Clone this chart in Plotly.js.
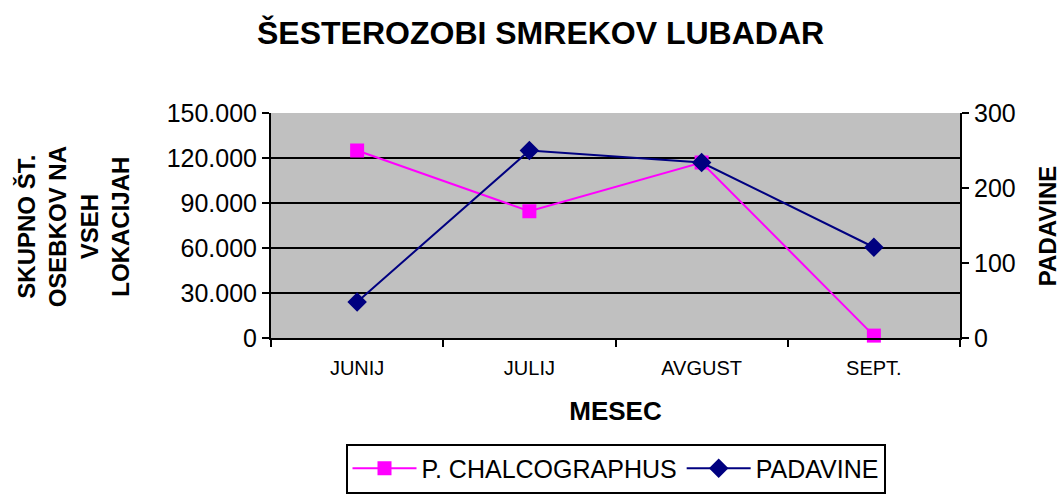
<!DOCTYPE html>
<html>
<head>
<meta charset="utf-8">
<script src="https://cdn.plot.ly/plotly-3.0.1.min.js"></script>
<style>html,body{margin:0;padding:0;background:#fff}#chart{width:1060px;height:495px}</style>
</head>
<body>
<div id="chart"></div>
<script>
const months = ["JUNIJ", "JULIJ", "AVGUST", "SEPT."];
const chalcographus = [125000, 84500, 117000, 1600];
const padavine = [48, 250, 234, 121];
const seriesNames = ["P. CHALCOGRAPHUS", "PADAVINE"];

const F = "Arial, 'Liberation Sans', sans-serif";

const traces = [
  {
    x: months, y: chalcographus, name: seriesNames[0], type: "scatter", mode: "lines+markers",
    line: {color: "#ff00ff", width: 2},
    marker: {symbol: "square", size: 14, color: "#ff00ff"},
    yaxis: "y", cliponaxis: false
  },
  {
    x: months, y: padavine, name: seriesNames[1], type: "scatter", mode: "lines+markers",
    line: {color: "#000080", width: 2},
    marker: {symbol: "diamond", size: 15, color: "#000080"},
    yaxis: "y2", cliponaxis: false
  }
];

const layout = {
  width: 1060, height: 495,
  margin: {l: 271, r: 100, t: 113, b: 157},
  paper_bgcolor: "#ffffff",
  plot_bgcolor: "#c0c0c0",
  separators: ",.",
  showlegend: true,
  title: {text: "<b>ŠESTEROZOBI SMREKOV LUBADAR</b>", font: {family: F, size: 32, color: "#000"}, x: 0.51, xanchor: "center", y: 0.933, yanchor: "middle", automargin: false},
  xaxis: {
    type: "category", range: [-0.5, 3.5], tickson: "boundaries", automargin: false,
    ticks: "outside", ticklen: 7, tickwidth: 2, tickcolor: "#000",
    ticklabelstandoff: 11,
    showline: true, linecolor: "#000", linewidth: 2, showgrid: false,
    tickfont: {family: F, size: 20, color: "#000"},
    title: {text: "<b>MESEC</b>", font: {family: F, size: 26, color: "#000"}, standoff: 24},
    fixedrange: true
  },
  yaxis: {
    range: [0, 150000], dtick: 30000, tick0: 0, tickformat: ",d", automargin: false,
    ticks: "outside", ticklen: 7, tickwidth: 2, tickcolor: "#000",
    showline: true, linecolor: "#000", linewidth: 2,
    showgrid: true, gridcolor: "#000", gridwidth: 2, zeroline: false,
    tickfont: {family: F, size: 25, color: "#000"},
    fixedrange: true
  },
  yaxis2: {
    overlaying: "y", side: "right", automargin: false,
    range: [0, 300], dtick: 100, tick0: 0,
    ticks: "outside", ticklen: 7, tickwidth: 2, tickcolor: "#000",
    showline: true, linecolor: "#000", linewidth: 2,
    showgrid: false, zeroline: false,
    tickfont: {family: F, size: 25, color: "#000"},
    fixedrange: true
  },
  legend: {
    orientation: "h", xref: "paper", x: 0.5, xanchor: "center",
    yref: "container", y: 0.003, yanchor: "bottom",
    bordercolor: "#000", borderwidth: 2, bgcolor: "#fff",
    font: {family: F, size: 25, color: "#000"},
    itemwidth: 64, tracegroupgap: 0
  },
  annotations: [
    {
      text: "<b>SKUPNO ŠT.<br>OSEBKOV NA<br>VSEH<br>LOKACIJAH</b>",
      xref: "paper", yref: "paper", x: -0.287, y: 0.493, xanchor: "center", yanchor: "middle",
      textangle: -90, showarrow: false, align: "center",
      font: {family: F, size: 24, color: "#000"}
    },
    {
      text: "<b>PADAVINE</b>",
      xref: "paper", yref: "paper", x: 1.128, y: 0.498, xanchor: "center", yanchor: "middle",
      textangle: -90, showarrow: false,
      font: {family: F, size: 24, color: "#000"}
    }
  ]
};

Plotly.newPlot("chart", traces, layout, {displayModeBar: false, staticPlot: true});
</script>
</body>
</html>
